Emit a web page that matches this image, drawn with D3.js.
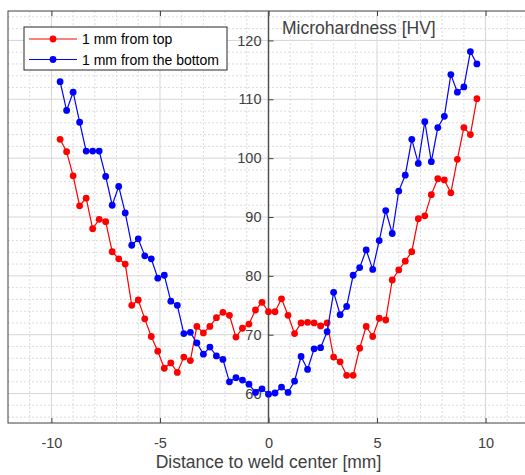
<!DOCTYPE html>
<html lang="en">
  <head>
    <meta charset="UTF-8" />
    <title>Microhardness across the weld</title>
    <script src="https://d3js.org/d3.v7.min.js"></script>
    <style>
      body { margin: 0; background: #fff; }
      svg { display: block; font-family: "Liberation Sans", Arial, sans-serif; }
    </style>
  </head>
  <body>
    <div id="chart"></div>
    <script>
      // measurement positions [mm] and hardness values [HV]
      var distance = [
        -9.6, -9.3, -9.0, -8.7, -8.4, -8.1, -7.8, -7.5, -7.2, -6.9, -6.6, -6.3, -6.0,
        -5.7, -5.4, -5.1, -4.8, -4.5, -4.2, -3.9, -3.6, -3.3, -3.0, -2.7, -2.4, -2.1,
        -1.8, -1.5, -1.2, -0.9, -0.6, -0.3, 0.0, 0.3, 0.6, 0.9, 1.2, 1.5, 1.8, 2.1,
        2.4, 2.7, 3.0, 3.3, 3.6, 3.9, 4.2, 4.5, 4.8, 5.1, 5.4, 5.7, 6.0, 6.3, 6.6,
        6.9, 7.2, 7.5, 7.8, 8.1, 8.4, 8.7, 9.0, 9.3, 9.6
      ];
      var fromTop = [
        103.2, 101.1, 97.0, 91.9, 93.2, 88.0, 89.6, 89.2, 84.1, 82.9, 82.0, 75.0, 75.9,
        72.7, 69.7, 67.2, 64.3, 65.2, 63.6, 66.2, 65.6, 71.4, 70.3, 71.4, 72.9, 73.8,
        73.3, 69.6, 71.1, 71.8, 74.2, 75.5, 73.9, 73.9, 76.1, 73.3, 70.2, 72.0, 72.1,
        72.0, 71.5, 72.0, 66.2, 65.4, 63.1, 63.1, 67.7, 71.4, 69.7, 72.8, 72.5, 79.3,
        81.0, 82.5, 84.1, 89.7, 90.2, 93.8, 96.5, 96.3, 94.1, 99.8, 105.2, 104.0, 110.1
      ];
      var fromBottom = [
        113.0, 108.1, 111.2, 106.1, 101.2, 101.2, 101.2, 96.9, 92.0, 95.2, 90.7, 85.2, 86.3,
        83.4, 82.9, 79.6, 80.1, 75.7, 75.0, 70.2, 70.4, 68.6, 66.7, 67.9, 66.4, 65.8,
        62.0, 62.7, 62.3, 61.6, 60.2, 60.8, 59.9, 60.1, 61.1, 60.2, 62.1, 66.3, 64.1,
        67.6, 67.8, 70.5, 77.2, 73.4, 74.8, 80.1, 81.4, 84.4, 81.1, 86.0, 91.1, 87.2,
        94.4, 97.1, 103.2, 99.1, 106.2, 99.4, 105.2, 107.1, 114.2, 111.2, 112.1, 118.1, 116.0
      ];
      var xTicks = [-10, -5, 0, 5, 10];
      var yTicks = [60, 70, 80, 90, 100, 110, 120];
      var seriesNames = ["1 mm from top", "1 mm from the bottom"];
      var seriesColors = ["#ff0000", "#0000ff"];

      var W = 525, H = 475;
      var pLeft = 8, pTop = 11, pBottom = 423, pRight = 529;

      var svg = d3
        .select("#chart")
        .append("svg")
        .attr("width", W)
        .attr("height", H);

      var x = d3.scaleLinear().domain([-12, 12]).range([pLeft, pRight]);
      var y = d3.scaleLinear().domain([55, 125]).range([pBottom, pTop]);
      var plain = function (d) { return String(d); };

      // minor grid (dotted)
      var grid = svg.append("g");
      grid
        .selectAll(".vminor")
        .data(d3.range(-11, 12, 1).filter(function (d) { return d % 5 != 0; }))
        .enter()
        .append("line")
        .attr("x1", function (d) { return x(d); })
        .attr("x2", function (d) { return x(d); })
        .attr("y1", pTop)
        .attr("y2", pBottom)
        .attr("stroke", "#dcdcdc")
        .attr("stroke-dasharray", "2,2");
      grid
        .selectAll(".hminor")
        .data(d3.range(56, 125, 2).filter(function (d) { return d % 10 != 0; }))
        .enter()
        .append("line")
        .attr("x1", pLeft)
        .attr("x2", pRight)
        .attr("y1", function (d) { return y(d); })
        .attr("y2", function (d) { return y(d); })
        .attr("stroke", "#dcdcdc")
        .attr("stroke-dasharray", "2,2");

      // major grid
      grid
        .selectAll(".vmajor")
        .data(xTicks)
        .enter()
        .append("line")
        .attr("x1", function (d) { return x(d); })
        .attr("x2", function (d) { return x(d); })
        .attr("y1", pTop)
        .attr("y2", pBottom)
        .attr("stroke", "#d6d6d6");
      grid
        .selectAll(".hmajor")
        .data(yTicks)
        .enter()
        .append("line")
        .attr("x1", pLeft)
        .attr("x2", pRight)
        .attr("y1", function (d) { return y(d); })
        .attr("y2", function (d) { return y(d); })
        .attr("stroke", "#d6d6d6");

      // box
      svg
        .append("rect")
        .attr("x", pLeft)
        .attr("y", pTop)
        .attr("width", pRight - pLeft)
        .attr("height", pBottom - pTop)
        .attr("fill", "none")
        .attr("stroke", "#404040")
        .attr("stroke-width", 1);

      // x axis (bottom) and top ticks
      var xAxis = svg
        .append("g")
        .attr("transform", "translate(0," + pBottom + ")")
        .call(d3.axisBottom(x).tickValues(xTicks).tickFormat(plain).tickSize(-5).tickPadding(14.5).tickSizeOuter(0));
      xAxis.select(".domain").remove();
      xAxis.selectAll("line").attr("stroke", "#404040");
      xAxis.selectAll("text").attr("fill", "#404040").style("font-size", "14.5px");

      var xTop = svg
        .append("g")
        .attr("transform", "translate(0," + pTop + ")")
        .call(d3.axisTop(x).tickValues(xTicks).tickSize(-5).tickFormat(""));
      xTop.select(".domain").remove();
      xTop.selectAll("line").attr("stroke", "#404040");

      // y axis through the origin
      var yAxis = svg
        .append("g")
        .attr("transform", "translate(" + x(0) + ",0)")
        .call(d3.axisLeft(y).tickValues(yTicks).tickFormat(plain).tickSize(-5).tickPadding(7).tickSizeOuter(0));
      yAxis.select(".domain").attr("stroke", "#505050").attr("stroke-width", 1.5)
        .attr("d", "M0," + pTop + "V" + pBottom);
      yAxis.selectAll("line").attr("stroke", "#404040");
      yAxis.selectAll("text").attr("fill", "#404040").style("font-size", "14.5px");

      // series
      var series = [fromTop, fromBottom];
      series.forEach(function (vals, i) {
        var pts = distance.map(function (d, j) { return [d, vals[j]]; });
        svg
          .append("path")
          .datum(pts)
          .attr("fill", "none")
          .attr("stroke", seriesColors[i])
          .attr("stroke-width", 1.2)
          .attr("d", d3.line()
            .x(function (d) { return x(d[0]); })
            .y(function (d) { return y(d[1]); }));
        svg
          .append("g")
          .selectAll("circle")
          .data(pts)
          .enter()
          .append("circle")
          .attr("cx", function (d) { return x(d[0]); })
          .attr("cy", function (d) { return y(d[1]); })
          .attr("r", 3.4)
          .attr("fill", seriesColors[i]);
      });

      // axis labels
      svg
        .append("text")
        .attr("x", 282)
        .attr("y", 34)
        .attr("fill", "#404040")
        .style("font-size", "17.5px")
        .text("Microhardness [HV]");

      svg
        .append("text")
        .attr("x", x(0))
        .attr("y", 468)
        .attr("text-anchor", "middle")
        .attr("fill", "#404040")
        .style("font-size", "17.5px")
        .text("Distance to weld center [mm]");

      // legend
      var lg = svg.append("g").attr("transform", "translate(24,27)");
      lg.append("rect")
        .attr("width", 203)
        .attr("height", 43)
        .attr("fill", "#fff")
        .attr("stroke", "#262626");
      seriesNames.forEach(function (name, i) {
        var row = lg.append("g").attr("transform", "translate(0," + (12 + i * 20.5) + ")");
        row.append("line")
          .attr("x1", 5)
          .attr("x2", 53)
          .attr("stroke", seriesColors[i])
          .attr("stroke-width", 1.2);
        row.append("circle")
          .attr("cx", 29)
          .attr("r", 3.4)
          .attr("fill", seriesColors[i]);
        row.append("text")
          .attr("x", 58)
          .attr("y", 5)
          .attr("fill", "#000")
          .style("font-size", "14px")
          .text(name);
      });
    </script>
  </body>
</html>
